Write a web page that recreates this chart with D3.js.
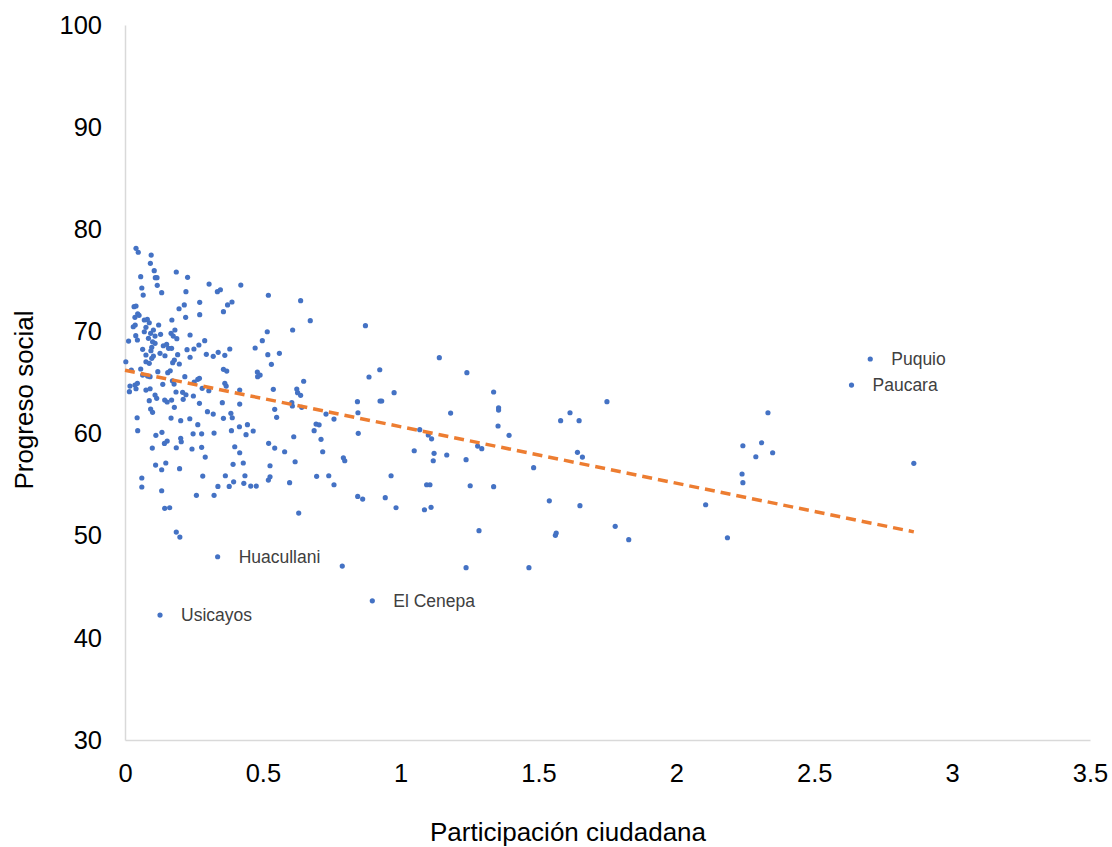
<!DOCTYPE html>
<html>
<head>
<meta charset="utf-8">
<script src="https://cdn.jsdelivr.net/npm/d3@7"></script>
<style>
  body { margin: 0; background: #fff; }
  text { font-family: "Liberation Sans", Arial, sans-serif; }
</style>
</head>
<body>
<div id="chart"></div>
<script>

// participacion ciudadana (x) y progreso social (y)
var participacion = [
  0.040, 0.048, 0.095, 0.092, 0.106, 0.186, 0.227, 0.057, 0.110, 0.116,
  0.117, 0.305, 0.420, 0.335, 0.346, 0.061, 0.066, 0.133, 0.221, 0.033,
  0.040, 0.046, 0.051, 0.036, 0.372, 0.388, 0.271, 0.215, 0.196, 0.357,
  0.271, 0.220, 0.170, 0.070, 0.081, 0.088, 0.030, 0.037, 0.122, 0.076,
  0.070, 0.103, 0.093, 0.109, 0.039, 0.045, 0.181, 0.167, 0.175, 0.188,
  0.236, 0.129, 0.013, 0.085, 0.100, 0.109, 0.289, 0.268, 0.250, 0.225,
  0.139, 0.151, 0.158, 0.169, 0.097, 0.094, 0.064, 0.380, 0.338, 0.362,
  0.320, 0.295, 0.472, 0.191, 0.236, 0.145, 0.127, 0.076, 0.103, 0.097,
  0.003, 0.076, 0.088, 0.179, 0.173, 0.197, 0.023, 0.057, 0.119, 0.155,
  0.164, 0.064, 0.082, 0.091, 0.217, 0.357, 0.369, 0.264, 0.270, 0.251,
  0.172, 0.178, 0.018, 0.036, 0.045, 0.040, 0.016, 0.137, 0.362, 0.367,
  0.480, 0.481, 0.490,
  0.076, 0.091, 0.185, 0.209, 0.221, 0.248, 0.280, 0.304, 0.416, 0.109,
  0.115, 0.088, 0.144, 0.153, 0.169, 0.211, 0.270, 0.353, 0.416, 0.179,
  0.093, 0.100, 0.299, 0.320, 0.384, 0.389, 0.357, 0.044, 0.167, 0.202,
  0.235, 0.264, 0.415, 0.444, 0.465, 0.439, 0.046, 0.112, 0.134, 0.247,
  0.278, 0.323, 0.386, 0.202, 0.204, 0.143, 0.153, 0.398, 0.099, 0.186,
  0.243, 0.278, 0.416, 0.291, 0.429, 0.111, 0.148, 0.133, 0.392, 0.198,
  0.061, 0.282, 0.364, 0.435, 0.061, 0.133, 0.337, 0.378, 0.394, 0.431,
  0.456, 0.476, 0.259, 0.323, 0.144, 0.162, 0.186, 0.199,
  0.520, 0.637, 0.672, 0.516, 0.608, 0.498, 0.518, 0.560, 0.531, 0.872,
  0.648, 0.924, 0.885, 0.976, 0.538, 0.623, 0.626, 0.637, 0.843, 0.925,
  0.931, 0.605, 0.607, 0.543, 0.641, 0.550, 0.729, 0.758, 0.845, 0.693,
  0.704, 0.686, 0.846, 0.612, 0.711, 0.521, 0.543, 0.579, 0.717, 1.049,
  0.617, 0.792, 0.797, 0.526, 0.520, 0.526, 0.597, 0.695, 0.739, 0.758,
  0.965, 0.844, 0.862, 0.944, 0.983, 0.630, 0.788, 0.336, 0.897, 0.127,
  1.140, 1.240, 1.337, 1.355, 1.355, 1.181, 1.353, 1.393, 1.580, 1.614,
  1.647, 1.069, 1.100, 1.112, 1.279, 1.294, 1.121, 1.167, 1.118, 1.237,
  1.641, 1.659, 1.482, 1.094, 1.106, 1.252, 1.337, 1.539, 1.650, 1.086,
  1.110, 1.284, 1.561, 1.564, 1.237, 1.465, 1.748, 2.332, 2.241, 2.309,
  2.288, 2.349, 2.238, 2.241, 2.106, 1.778, 1.827, 2.185, 2.703, 2.635, 2.861
];

var progreso = [
  78.14, 77.75, 77.48, 76.67, 75.95, 75.82, 75.30, 75.36, 75.26, 75.26,
  74.51, 74.64, 74.54, 73.89, 74.08, 74.25, 73.56, 73.79, 73.89, 72.42,
  72.49, 71.73, 71.58, 71.38, 72.59, 72.88, 72.85, 72.59, 72.22, 71.93,
  71.64, 71.38, 71.12, 71.12, 71.18, 70.85, 70.46, 70.63, 70.63, 70.40,
  69.97, 70.14, 69.81, 69.55, 69.58, 69.16, 70.14, 69.81, 69.55, 69.29,
  69.65, 69.72, 69.06, 69.32, 68.99, 68.84, 69.09, 68.67, 68.28, 68.21,
  68.60, 68.74, 68.35, 68.35, 68.44, 68.11, 68.25, 68.28, 67.95, 67.66,
  67.56, 67.76, 68.38, 67.72, 67.47, 67.62, 67.86, 67.69, 67.59, 67.37,
  67.03, 67.03, 66.88, 67.20, 66.94, 66.81, 66.22, 66.32, 66.06, 65.96,
  66.15, 65.73, 65.63, 65.57, 65.57, 66.29, 66.12, 65.31, 65.41, 65.05,
  65.17, 64.85, 64.65, 64.75, 64.92, 64.39, 64.10, 64.82, 64.92, 64.65,
  66.03, 65.57, 65.73,
  64.26, 64.39, 64.07, 64.04, 63.80, 63.68, 64.43, 64.19, 64.26, 63.77,
  63.45, 63.22, 63.28, 63.09, 63.28, 63.35, 62.96, 63.02, 62.89, 62.57,
  62.40, 62.08, 62.14, 61.91, 61.98, 61.55, 61.49, 61.55, 61.52, 61.26,
  61.45, 60.87, 60.67, 60.87, 60.25, 59.89, 60.28, 59.83, 60.12, 59.98,
  59.98, 60.05, 60.28, 59.53, 59.20, 59.04, 59.27, 58.71, 58.58, 58.61,
  58.49, 58.65, 58.12, 57.70, 57.12, 56.92, 57.12, 56.46, 56.99, 56.56,
  55.65, 55.84, 55.87, 55.87, 54.77, 54.40, 54.83, 54.83, 55.28, 55.13,
  54.86, 54.86, 53.95, 53.95, 52.68, 52.74, 50.36, 49.87,
  73.54, 73.01, 71.05, 69.97, 70.14, 69.09, 67.72, 67.86, 66.78, 70.56,
  65.12, 66.25, 65.54, 64.00, 64.33, 64.36, 64.00, 63.74, 63.12, 63.19,
  63.19, 63.02, 62.70, 62.37, 62.57, 61.59, 61.91, 61.42, 62.04, 60.93,
  60.86, 60.28, 60.02, 59.69, 59.44, 59.05, 58.58, 58.22, 58.22, 58.32,
  57.24, 57.63, 57.34, 56.85, 55.45, 55.77, 55.19, 55.81, 55.87, 54.99,
  55.87, 53.85, 53.59, 53.72, 52.74, 52.22, 47.03, 47.94, 43.63, 42.23,
  67.43, 65.96, 64.07, 62.53, 62.30, 62.01, 60.74, 59.83, 61.26, 62.04,
  61.26, 60.38, 59.86, 59.49, 58.78, 58.52, 58.07, 57.90, 57.34, 57.44,
  58.16, 57.70, 56.66, 54.99, 54.99, 54.89, 54.80, 53.42, 52.94, 52.54,
  52.78, 50.49, 50.04, 50.26, 46.87, 46.87, 63.12, 62.04, 58.81, 59.10,
  57.73, 58.12, 56.04, 55.19, 53.03, 50.92, 49.61, 49.80, 67.30, 64.75, 57.09
];

// distritos con etiqueta
var etiquetas = ["Puquio", "Paucara", "Huacullani", "El Cenepa", "Usicayos"];
var etiquetaX = [2.703, 2.635, 0.336, 0.897, 0.127];
var etiquetaY = [67.30, 64.75, 47.94, 43.63, 42.23];

// linea de tendencia lineal (Excel)
var trendIntercept = 66.2;
var trendSlope = -5.53;

var xTicks = [0, 0.5, 1, 1.5, 2, 2.5, 3, 3.5];
var yTicks = [30, 40, 50, 60, 70, 80, 90, 100];

var width = 1112;
var height = 847;
var margin = {top: 25, right: 22, bottom: 107, left: 125};

var svg = d3.select("#chart").append("svg")
    .attr("width", width)
    .attr("height", height);

var x = d3.scaleLinear().domain([0, 3.5]).range([margin.left, width - margin.right]);
var y = d3.scaleLinear().domain([30, 100]).range([height - margin.bottom, margin.top]);

// ejes
var xAxis = svg.append("g")
    .attr("transform", "translate(0," + (height - margin.bottom) + ")")
    .call(d3.axisBottom(x).tickValues(xTicks).tickSize(0).tickPadding(24)
        .tickFormat(function (d) { return d3.format("")(d); }));

var yAxis = svg.append("g")
    .attr("transform", "translate(" + margin.left + ",0)")
    .call(d3.axisLeft(y).tickValues(yTicks).tickSize(0).tickPadding(23));

[xAxis, yAxis].forEach(function (g) {
  g.select(".domain").attr("stroke", "#d9d9d9").attr("stroke-width", 1.5);
  g.selectAll("text")
    .style("font-family", "Liberation Sans, Arial, sans-serif")
    .style("font-size", "25.5px")
    .attr("fill", "#000");
});

// puntos
var points = participacion.map(function (d, i) { return [d, progreso[i]]; });

svg.append("g")
  .selectAll("circle")
  .data(points)
  .enter().append("circle")
    .attr("cx", function (d) { return x(d[0]); })
    .attr("cy", function (d) { return y(d[1]); })
    .attr("r", 2.6)
    .attr("fill", "#4472C4");

// tendencia
var xMax = d3.max(participacion);
svg.append("line")
    .attr("x1", x(0))
    .attr("y1", y(trendIntercept))
    .attr("x2", x(xMax))
    .attr("y2", y(trendIntercept + trendSlope * xMax))
    .attr("stroke", "#ED7D31")
    .attr("stroke-width", 3.5)
    .attr("stroke-dasharray", "10,6");

// etiquetas de datos
svg.append("g")
  .selectAll("text")
  .data(etiquetas)
  .enter().append("text")
    .attr("x", function (d, i) { return x(etiquetaX[i]) + 21; })
    .attr("y", function (d, i) { return y(etiquetaY[i]); })
    .attr("dy", "0.35em")
    .style("font-size", "17.5px")
    .attr("fill", "#404040")
    .text(function (d) { return d; });

// titulos de ejes
svg.append("text")
    .attr("x", 568)
    .attr("y", 841)
    .attr("text-anchor", "middle")
    .style("font-size", "26px")
    .attr("fill", "#000")
    .text("Participación ciudadana");

svg.append("text")
    .attr("transform", "translate(33,400) rotate(-90)")
    .attr("text-anchor", "middle")
    .style("font-size", "26px")
    .attr("fill", "#000")
    .text("Progreso social");

</script>
</body>
</html>
